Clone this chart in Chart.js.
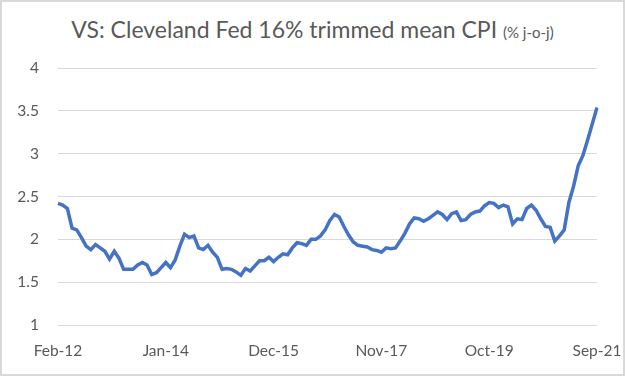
<!DOCTYPE html>
<html>
<head>
<meta charset="utf-8">
<script src="https://cdn.jsdelivr.net/npm/chart.js@4.4.0/dist/chart.umd.min.js"></script>
<style>
  html, body { margin: 0; padding: 0; background: #fff; }
  #wrap {
    position: relative;
    width: 625px;
    height: 376px;
    box-sizing: border-box;
    border: 2px solid #d9d9d9;
    background: #fff;
    overflow: hidden;
  }
  #title {
    position: absolute;
    left: 0;
    right: 0;
    top: 13px;
    text-align: center;
    font-family: Lato, "Noto Sans", sans-serif;
    font-size: 23px;
    color: #595959;
    white-space: nowrap;
  }
  #title span { font-size: 15px; }
  canvas { position: absolute; left: -2px; top: -2px; }
</style>
</head>
<body>
<div id="wrap">
  <div id="title">VS: Cleveland Fed 16% trimmed mean CPI <span>(% j-o-j)</span></div>
  <canvas id="chart" width="625" height="376"></canvas>
</div>
<script>
// maanden feb 2012 t/m sep 2021
const startYear = 2012;
const startMonth = 1; // feb (0 = jan)
const monthNames = ['Jan', 'Feb', 'Mar', 'Apr', 'May', 'Jun', 'Jul', 'Aug', 'Sep', 'Oct', 'Nov', 'Dec'];

// getoonde labels op de x-as
const shownLabels = ['Feb-12', 'Jan-14', 'Dec-15', 'Nov-17', 'Oct-19', 'Sep-21'];

// 16% trimmed mean CPI, % j-o-j
const cpiValues = [
  2.42, 2.40, 2.36, 2.13, 2.11, 2.02, 1.92, 1.88, 1.94, 1.90,
  1.86, 1.77, 1.86, 1.78, 1.65, 1.65, 1.65, 1.70, 1.73, 1.70,
  1.59, 1.61, 1.67, 1.73, 1.67, 1.76, 1.92, 2.06, 2.02, 2.04,
  1.90, 1.88, 1.93, 1.85, 1.79, 1.65, 1.66, 1.65, 1.62, 1.58,
  1.66, 1.63, 1.69, 1.75, 1.75, 1.79, 1.74, 1.79, 1.83, 1.82,
  1.90, 1.96, 1.95, 1.93, 2.00, 2.00, 2.04, 2.11, 2.22, 2.29,
  2.26, 2.15, 2.05, 1.97, 1.93, 1.92, 1.91, 1.88, 1.87, 1.85,
  1.90, 1.89, 1.90, 1.98, 2.07, 2.18, 2.25, 2.24, 2.21, 2.24,
  2.28, 2.32, 2.29, 2.23, 2.30, 2.32, 2.22, 2.23, 2.29, 2.32,
  2.33, 2.39, 2.43, 2.42, 2.37, 2.40, 2.38, 2.18, 2.24, 2.23,
  2.36, 2.40, 2.34, 2.24, 2.15, 2.14, 1.98, 2.04, 2.11, 2.43,
  2.62, 2.86, 2.98, 3.16, 3.35, 3.54
];

// y-as
const yMin = 1;
const yMax = 4;
const yStep = 0.5;

const labels = cpiValues.map((v, i) => {
  const m = startMonth + i;
  const year = startYear + Math.floor(m / 12);
  return monthNames[m % 12] + '-' + String(year).slice(2);
});

const ctx = document.getElementById('chart').getContext('2d');

new Chart(ctx, {
  type: 'line',
  data: {
    labels: labels,
    datasets: [{
      label: 'CPI',
      data: cpiValues,
      borderColor: '#4472C4',
      borderWidth: 3.5,
      pointRadius: 0,
      tension: 0,
      fill: false
    }]
  },
  options: {
    responsive: false,
    animation: false,
    layout: {
      padding: { left: 0, right: 28, top: 68, bottom: 0 }
    },
    plugins: {
      legend: { display: false },
      tooltip: { enabled: false }
    },
    scales: {
      x: {
        offset: false,
        grid: { display: false, drawTicks: false },
        border: { display: false },
        ticks: {
          autoSkip: false,
          maxRotation: 0,
          padding: 17,
          color: '#595959',
          font: { family: 'Lato', size: 15.5 },
          callback: function(value) {
            const lab = this.getLabelForValue(value);
            return shownLabels.includes(lab) ? lab : null;
          }
        },
        afterFit: function(scale) {
          scale.height = 51;
          // labels mogen buiten het plotvlak uitsteken
          scale.paddingLeft = 0;
          scale.paddingRight = 0;
        }
      },
      y: {
        min: yMin,
        max: yMax,
        grid: { color: '#d9d9d9', lineWidth: 1, drawTicks: false },
        border: { display: false },
        ticks: {
          stepSize: yStep,
          padding: 19,
          color: '#595959',
          font: { family: 'Lato', size: 15.5 },
          callback: value => String(value)
        },
        afterFit: function(scale) { scale.width = 58; }
      }
    }
  }
});
</script>
</body>
</html>
